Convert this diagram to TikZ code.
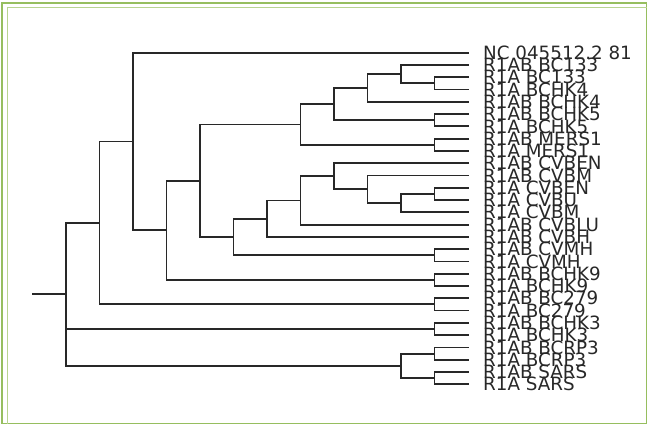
\documentclass[tikz,border=0pt]{standalone}
\usepackage{fontspec}
\setmainfont{DejaVu Sans}
\definecolor{frameout}{RGB}{150,190,95}
\definecolor{framein}{RGB}{185,212,145}
\definecolor{branch}{RGB}{40,40,40}
\tikzset{
  br/.style={draw=branch, line width=1.8pt, line cap=rect},
  leaflabel/.style={anchor=west, inner sep=0pt, font=\fontsize{18.3}{18.3}\selectfont, text=branch}
}
\begin{document}
\begin{tikzpicture}[x=1pt,y=-1pt]
\useasboundingbox (0,0) rectangle (650,427);
\fill[white] (0,0) rectangle (650,427);
\draw[frameout, line width=1.4pt] (2,3) rectangle (646.5,423.5);
\draw[framein, line width=1.2pt] (7.5,7.5) -- (646.5,7.5);
\draw[framein, line width=1.2pt] (7.5,7.5) -- (7.5,423.5);
% leaves
\foreach \i/\y in {1/52.7,2/64.98,3/77.26,4/89.54,5/101.82,6/114.1,7/126.38,8/138.66,9/150.94,10/163.22,11/175.5,12/187.78,13/200.06,14/212.34,15/224.62,16/236.9,17/249.18,18/261.46,19/273.74,20/286.02,21/298.3,22/310.58,23/322.86,24/335.14,25/347.42,26/359.7,27/371.98,28/384.26}
  \coordinate (l\i) at (468,\y);
% internal nodes: x = 66 + 33.5*level
\coordinate (A34) at (434.5,83.4);
\coordinate (B) at (401,74.2);
\coordinate (C) at (367.5,88.0);
\coordinate (A67) at (434.5,120.24);
\coordinate (D) at (334,104.1);
\coordinate (A89) at (434.5,144.8);
\coordinate (E) at (300.5,124.5);
\coordinate (A1213) at (434.5,193.9);
\coordinate (F) at (401,203.1);
\coordinate (G) at (367.5,189.3);
\coordinate (H) at (334,176.3);
\coordinate (I) at (300.5,200.5);
\coordinate (J) at (267,218.7);
\coordinate (A1718) at (434.5,255.3);
\coordinate (K) at (233.5,237.0);
\coordinate (L) at (200,180.7);
\coordinate (A1920) at (434.5,279.9);
\coordinate (M) at (166.5,230.3);
\coordinate (N) at (133,141.5);
\coordinate (A2122) at (434.5,304.4);
\coordinate (O) at (99.5,223.0);
\coordinate (A2324) at (434.5,329.0);
\coordinate (A2526) at (434.5,353.6);
\coordinate (A2728) at (434.5,378.1);
\coordinate (P) at (401,365.8);
\coordinate (R) at (66,294.4);
\coordinate (R0) at (33.3,294.4);
% branches
\draw[br] (R0) -- (R);
\draw[br] (R) |- (O);
\draw[br] (R) |- (A2324);
\draw[br] (R) |- (P);
\draw[br] (P) |- (A2526);
\draw[br] (P) |- (A2728);
\draw[br] (A2526) |- (l25); \draw[br] (A2526) |- (l26);
\draw[br] (A2728) |- (l27); \draw[br] (A2728) |- (l28);
\draw[br] (A2324) |- (l23); \draw[br] (A2324) |- (l24);
\draw[br] (O) |- (N);
\draw[br] (O) |- (A2122);
\draw[br] (A2122) |- (l21); \draw[br] (A2122) |- (l22);
\draw[br] (N) |- (l1);
\draw[br] (N) |- (M);
\draw[br] (M) |- (L);
\draw[br] (M) |- (A1920);
\draw[br] (A1920) |- (l19); \draw[br] (A1920) |- (l20);
\draw[br] (L) |- (E);
\draw[br] (L) |- (K);
\draw[br] (E) |- (D);
\draw[br] (E) |- (A89);
\draw[br] (A89) |- (l8); \draw[br] (A89) |- (l9);
\draw[br] (D) |- (C);
\draw[br] (D) |- (A67);
\draw[br] (A67) |- (l6); \draw[br] (A67) |- (l7);
\draw[br] (C) |- (B);
\draw[br] (C) |- (l5);
\draw[br] (B) |- (l2);
\draw[br] (B) |- (A34);
\draw[br] (A34) |- (l3); \draw[br] (A34) |- (l4);
\draw[br] (K) |- (J);
\draw[br] (K) |- (A1718);
\draw[br] (A1718) |- (l17); \draw[br] (A1718) |- (l18);
\draw[br] (J) |- (I);
\draw[br] (J) |- (l16);
\draw[br] (I) |- (H);
\draw[br] (I) |- (l15);
\draw[br] (H) |- (l10);
\draw[br] (H) |- (G);
\draw[br] (G) |- (l11);
\draw[br] (G) |- (F);
\draw[br] (F) |- (A1213);
\draw[br] (F) |- (l14);
\draw[br] (A1213) |- (l12); \draw[br] (A1213) |- (l13);
% labels
\foreach \i/\t in {1/NC 045512.2 81,2/R1AB BC133,3/R1A BC133,4/R1A BCHK4,5/R1AB BCHK4,6/R1AB BCHK5,7/R1A BCHK5,8/R1AB MERS1,9/R1A MERS1,10/R1AB CVBEN,11/R1AB CVBM,12/R1A CVBEN,13/R1A CVBU,14/R1A CVBM,15/R1AB CVBLU,16/R1AB CVBH,17/R1AB CVMH,18/R1A CVMH,19/R1AB BCHK9,20/R1A BCHK9,21/R1AB BC279,22/R1A BC279,23/R1AB BCHK3,24/R1A BCHK3,25/R1AB BCRP3,26/R1A BCRP3,27/R1AB SARS,28/R1A SARS}
  \node[leaflabel] (t\i) at ([xshift=15pt]l\i) {\t};
\end{tikzpicture}
\end{document}
